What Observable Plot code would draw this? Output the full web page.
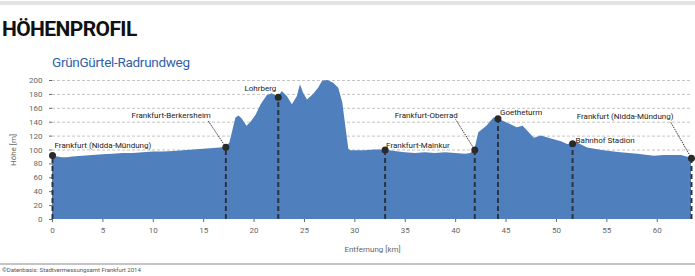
<!DOCTYPE html>
<html><head><meta charset="utf-8">
<script src="https://cdn.jsdelivr.net/npm/d3@7"></script>
<script src="https://cdn.jsdelivr.net/npm/@observablehq/plot@0.6"></script>
<style>
body{margin:0;background:#fff;width:695px;height:276px;position:relative;overflow:hidden;font-family:Roboto,sans-serif}
#topbar{position:absolute;left:0;top:1px;width:695px;height:4px;background:#e3e3e3}
#title{position:absolute;left:2px;top:17px;font:bold 21px Roboto;letter-spacing:-0.6px;color:#111;line-height:24px}
#subtitle{position:absolute;left:52px;top:54px;font:13.5px Roboto;color:#2e62ac;line-height:16px;letter-spacing:-0.3px}
#chart{position:absolute;left:0;top:72px}
#rule{position:absolute;left:0;top:263px;width:695px;height:2px;background:#c4c4c4}
#foot{position:absolute;left:2px;top:266px;font:6px Roboto;color:#555;line-height:7px}
</style></head><body>
<div id="topbar"></div>
<div id="title">HÖHENPROFIL</div>
<div id="subtitle">GrünGürtel-Radrundweg</div>
<div id="chart"></div>
<div id="rule"></div>
<div id="foot">©Datenbasis: Stadtvermessungsamt Frankfurt 2014</div>
<script>
const profileKm = [0,0.5,1,1.5,2,3,4,5,6,7,8,9,10,11,12,13,14,15,16,16.6,17.2,17.6,17.9,18.2,18.5,18.8,19.3,19.7,20.2,20.7,21.3,21.8,22.4,22.8,23.3,23.8,24.3,24.6,24.9,25.3,25.9,26.4,26.8,27.3,27.9,28.4,28.8,29.1,29.4,29.6,31,32,33,34,35,36,37,38,39,40,41,41.5,41.9,42.3,43.1,43.8,44.2,45.1,46.1,46.7,47.3,47.8,48.5,49.5,50.5,51.1,51.6,52.1,53.1,54.7,56.4,58.1,59.7,60.7,62.4,63.4];
const profileElev = [92,90,89,89,90,91,92,93,94,95,95,96,97,97,98,99,100,101,102,103,104,110,128,146,149,145,134,140,150,165,178,181,176,184,177,165,177,194,182,172,180,189,199,200,196,189,168,134,101,99,99,100,100,98,96,95,96,95,96,95,94,95,100,125,134,146,145,139,132,134,125,117,120,116,112,108,109,110,103,99,96,94,91,92,92,88];
const stopNames = ["Frankfurt (Nidda-Mündung)","Frankfurt-Berkersheim","Lohrberg","Frankfurt-Mainkur","Frankfurt-Oberrad","Goetheturm","Bahnhof Stadion","Frankfurt (Nidda-Mündung)"];
const stopKm = [0,17.2,22.4,33.0,41.9,44.2,51.6,63.4];
const stopElev = [92,104,176,100,100,145,109,88];
const xTicks = [0,5,10,15,20,25,30,35,40,45,50,55,60];
const yTicks = [0,20,40,60,80,100,120,140,160,180,200];

const profile = profileKm.map((k,i)=>({km:k, elev:profileElev[i]}));
const stops = stopNames.map((n,i)=>({name:n, km:stopKm[i], elev:stopElev[i]}));

const lab = (i, o) => Plot.text([stops[i]], {x:"km", y:"elev", text:"name", fontSize:8, fill:"#222", ...o});
const lead = (i, dk, de) => Plot.link([stops[i]], {x1:"km", y1:"elev", x2:d=>d.km+dk, y2:d=>d.elev+de, stroke:"#333", strokeWidth:1, strokeDasharray:"1.5,1"});

const chart = Plot.plot({
  width:695, height:188,
  marginTop:8, marginBottom:41, marginLeft:52, marginRight:3,
  style:{fontFamily:"Roboto", fontSize:"8px", color:"#666", background:"transparent"},
  x:{domain:[0,63.5], ticks:xTicks, tickSize:3, tickPadding:5, label:"Entfernung [km]", labelAnchor:"center", labelOffset:32, labelArrow:"none"},
  y:{domain:[0,200], ticks:yTicks, tickSize:3, tickPadding:7, label:"Höhe [m]", labelAnchor:"center", labelOffset:42, labelArrow:"none"},
  marks:[
    Plot.ruleY(yTicks.filter(d=>d>0), {stroke:"#c4c4c4", strokeDasharray:"3,2"}),
    Plot.areaY(profile, {x:"km", y:"elev", fill:"#4f7fbd"}),
    Plot.ruleX(stops, {x:"km", y1:0, y2:"elev", stroke:"#2a3342", strokeWidth:2, strokeDasharray:"5,3"}),
    lead(1, -1.8, 39),
    lead(4, -1.9, 44),
    lead(7, -2.1, 53),
    Plot.dot(stops, {x:"km", y:"elev", r:3.5, fill:"#2a2a2a"}),
    lab(0, {dx:2, dy:-10, textAnchor:"start"}),
    lab(1, {dx:-15, dy:-32, textAnchor:"end"}),
    lab(2, {dx:-2, dy:-9, textAnchor:"end"}),
    lab(3, {dx:1, dy:-5, textAnchor:"start"}),
    lab(4, {dx:-17, dy:-35, textAnchor:"end"}),
    lab(5, {dx:2, dy:-6, textAnchor:"start"}),
    lab(6, {dx:3, dy:-3, textAnchor:"start"}),
    lab(7, {dx:-18, dy:-42, textAnchor:"end"})
  ]
});
document.getElementById("chart").appendChild(chart);
</script>
</body></html>
